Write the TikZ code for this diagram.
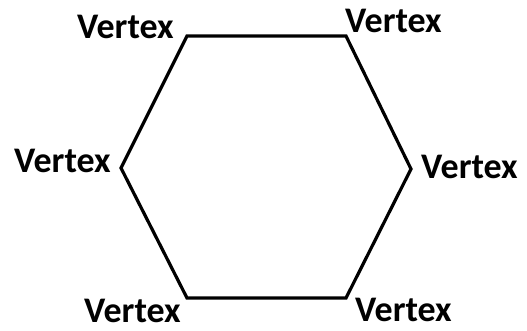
\documentclass[tikz,border=0pt]{standalone}
\usepackage{fontspec}
\setmainfont{Carlito}

\begin{document}
\begin{tikzpicture}[x=1pt,y=1pt,
  vlabel/.style={anchor=base west, inner sep=0pt, font=\fontsize{36}{40}\selectfont\bfseries},
  edge/.style={line width=3.2pt, line join=miter}]

\useasboundingbox (0,0) rectangle (527,331);

% corners of the hexagon
\coordinate (v1) at (187,295);
\coordinate (v2) at (346,295);
\coordinate (v3) at (411,162);
\coordinate (v4) at (346,33);
\coordinate (v5) at (187,33);
\coordinate (v6) at (121,163);

\draw[edge] (v1) -- (v2) -- (v3) -- (v4) -- (v5) -- (v6) -- cycle;

% labels
\node[vlabel] (l1) at (77,292) {Vertex};
\node[vlabel] (l2) at (345,298) {Vertex};
\node[vlabel] (l3) at (421,152) {Vertex};
\node[vlabel] (l4) at (355,9) {Vertex};
\node[vlabel] (l5) at (84,8) {Vertex};
\node[vlabel] (l6) at (14,158) {Vertex};

\end{tikzpicture}
\end{document}
